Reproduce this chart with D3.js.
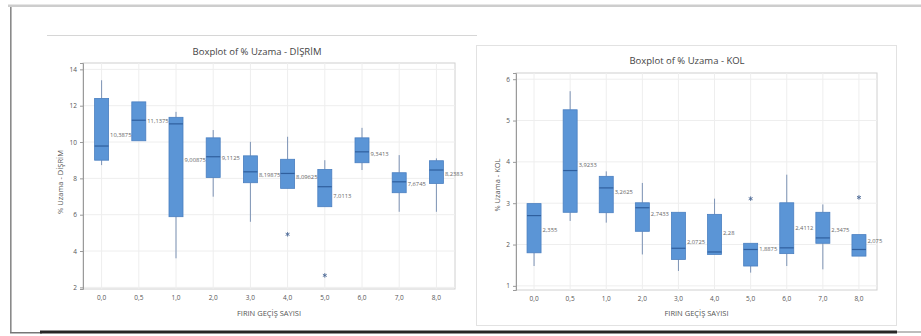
<!DOCTYPE html>
<html>
<head>
<meta charset="utf-8">
<script src="https://cdn.jsdelivr.net/npm/d3@7"></script>
<style>
  html, body { margin: 0; padding: 0; background: #fff; }
  svg { display: block; font-family: "Open Sans", "Noto Sans", sans-serif; }
</style>
</head>
<body>
<svg id="chart" width="921" height="336"></svg>
<script>
// ---------- DATA ----------
const categories = ["0,0", "0,5", "1,0", "2,0", "3,0", "4,0", "5,0", "6,0", "7,0", "8,0"];

// Left chart: % Uzama - DİŞRİM
const disrimTicks = [2, 4, 6, 8, 10, 12, 14];
const disrimWhiskerLow  = [8.73, 10.07, 3.6, 6.99, 5.61, 7.45, 6.44, 8.46, 6.16, 6.16];
const disrimQ1          = [9.0, 10.07, 5.89, 8.05, 7.76, 7.45, 6.44, 8.86, 7.21, 7.72];
const disrimMedian      = [9.78, 11.2, 11.0, 9.19, 8.36, 8.27, 7.54, 9.46, 7.81, 8.46];
const disrimQ3          = [12.4, 12.21, 11.36, 10.23, 9.24, 9.05, 8.49, 10.23, 8.31, 8.97];
const disrimWhiskerHigh = [13.4, 12.21, 11.66, 10.66, 10.01, 10.29, 9.0, 10.78, 9.28, 9.1];
const disrimMean        = [10.3875, 11.1375, 9.00875, 9.1125, 8.19875, 8.09625, 7.0113, 9.3413, 7.6745, 8.2383];
const disrimOutliers    = [[], [], [], [], [], [4.92], [2.66], [], [], []];

// Right chart: % Uzama - KOL
const kolTicks = [1, 2, 3, 4, 5, 6];
const kolWhiskerLow  = [1.48, 2.57, 2.53, 1.76, 1.36, 1.76, 1.32, 1.48, 1.40, 1.72];
const kolQ1          = [1.80, 2.78, 2.77, 2.32, 1.64, 1.76, 1.48, 1.78, 2.03, 1.72];
const kolMedian      = [2.70, 3.79, 3.37, 2.89, 1.91, 1.82, 1.88, 1.92, 2.16, 1.88];
const kolQ3          = [2.99, 5.26, 3.65, 3.01, 2.78, 2.73, 2.03, 3.01, 2.78, 2.24];
const kolWhiskerHigh = [2.99, 5.71, 3.77, 3.49, 2.78, 3.11, 2.03, 3.69, 2.97, 2.24];
const kolMean        = [2.355, 3.9233, 3.2625, 2.7433, 2.0725, 2.28, 1.8875, 2.4112, 2.3475, 2.075];
const kolOutliers    = [[], [], [], [], [], [], [3.11], [], [], [3.14]];

// ---------- DRAW ----------
const svg = d3.select("#chart");

// outer frame
svg.append("rect").attr("x", 8).attr("y", 4.5).attr("width", 913).attr("height", 2.5).attr("fill", "#cdcdcd");
svg.append("rect").attr("x", 10).attr("y", 7).attr("width", 1.6).attr("height", 326).attr("fill", "#8a8a8a");
svg.append("rect").attr("x", 10).attr("y", 332).attr("width", 32).attr("height", 1.5).attr("fill", "#777");
svg.append("rect").attr("x", 40).attr("y", 330.5).attr("width", 857).attr("height", 3).attr("fill", "#262626");
svg.append("rect").attr("x", 897).attr("y", 331).attr("width", 24).attr("height", 2).attr("fill", "#bdbdbd");

// left panel top line
svg.append("line").attr("x1", 47).attr("x2", 477).attr("y1", 35.5).attr("y2", 35.5)
  .attr("stroke", "#d6d6d6").attr("stroke-width", 1);

// right panel frame
svg.append("rect").attr("x", 476.5).attr("y", 45.5).attr("width", 420).attr("height", 280)
  .attr("fill", "#fff").attr("stroke", "#e2e2e2").attr("stroke-width", 1);

function drawBoxplot(cfg) {
  const g = svg.append("g");
  const x = d3.scaleBand().domain(categories).range([cfg.left, cfg.right]);
  const y = d3.scaleLinear().domain(cfg.yDomain).range([cfg.bottom, cfg.top]);

  // plot frame
  g.append("rect").attr("x", cfg.left).attr("y", cfg.top)
    .attr("width", cfg.right - cfg.left).attr("height", cfg.bottom - cfg.top)
    .attr("fill", "#fff").attr("stroke", "#d0d0d0").attr("stroke-width", 1);

  // gridlines
  g.selectAll(".hg").data(cfg.ticks).join("line")
    .attr("x1", cfg.left).attr("x2", cfg.right)
    .attr("y1", d => y(d)).attr("y2", d => y(d))
    .attr("stroke", "#eeeeee").attr("stroke-width", 1);
  g.selectAll(".vg").data(categories).join("line")
    .attr("x1", d => x(d) + x.bandwidth() / 2).attr("x2", d => x(d) + x.bandwidth() / 2)
    .attr("y1", cfg.top).attr("y2", cfg.bottom)
    .attr("stroke", "#eeeeee").attr("stroke-width", 1);

  // axes
  const yAxis = d3.axisLeft(y).tickValues(cfg.ticks).tickSize(3).tickPadding(3).tickFormat(d3.format("d"));
  const ya = g.append("g").attr("transform", `translate(${cfg.left},0)`).call(yAxis);
  ya.select(".domain").attr("stroke", "#9a9a9a");
  ya.selectAll(".tick line").attr("stroke", "#9a9a9a");
  ya.selectAll("text").attr("font-size", 6.5).attr("fill", "#555").attr("font-family", "Open Sans, sans-serif");

  const xAxis = d3.axisBottom(x).tickSize(0).tickPadding(6);
  const xa = g.append("g").attr("transform", `translate(0,${cfg.bottom})`).call(xAxis);
  xa.select(".domain").remove();
  xa.selectAll("text").attr("font-size", 6.5).attr("fill", "#555").attr("font-family", "Open Sans, sans-serif");

  const bw = 14;
  const cx = i => x(categories[i]) + x.bandwidth() / 2;
  const idx = d3.range(categories.length);

  // whiskers
  g.selectAll(".wh").data(idx).join("line")
    .attr("x1", cx).attr("x2", cx)
    .attr("y1", i => y(cfg.wHigh[i])).attr("y2", i => y(cfg.q3[i]))
    .attr("stroke", "#7d93b5").attr("stroke-width", 1);
  g.selectAll(".wl").data(idx).join("line")
    .attr("x1", cx).attr("x2", cx)
    .attr("y1", i => y(cfg.q1[i])).attr("y2", i => y(cfg.wLow[i]))
    .attr("stroke", "#7d93b5").attr("stroke-width", 1);

  // boxes
  g.selectAll(".box").data(idx).join("rect")
    .attr("x", i => cx(i) - bw / 2).attr("width", bw)
    .attr("y", i => y(cfg.q3[i])).attr("height", i => y(cfg.q1[i]) - y(cfg.q3[i]))
    .attr("fill", "#5b95d6").attr("stroke", "#4a7fc0").attr("stroke-width", 0.8);

  // medians
  g.selectAll(".med").data(idx).join("line")
    .attr("x1", i => cx(i) - bw / 2).attr("x2", i => cx(i) + bw / 2)
    .attr("y1", i => y(cfg.median[i])).attr("y2", i => y(cfg.median[i]))
    .attr("stroke", "#2f5f9e").attr("stroke-width", 1.2);

  // outliers
  const outs = idx.flatMap(i => cfg.outliers[i].map(v => ({ i, v })));
  g.selectAll(".out").data(outs).join("path")
    .attr("transform", d => `translate(${cx(d.i)},${y(d.v)})`)
    .attr("d", d3.symbol(d3.symbolAsterisk, 14))
    .attr("fill", "none").attr("stroke", "#4d6a96").attr("stroke-width", 0.9);

  // mean labels
  g.selectAll(".ml").data(idx).join("text")
    .attr("x", i => cx(i) + bw / 2 + 1.5)
    .attr("y", i => y(cfg.mean[i]))
    .attr("dy", "0.35em")
    .attr("font-size", 5.8).attr("fill", "#666")
    .text(i => String(cfg.mean[i]).replace(".", ","));

  // titles
  g.append("text").attr("x", cfg.titleX).attr("y", cfg.titleY)
    .attr("text-anchor", "middle").attr("font-size", 9.5).attr("fill", "#444")
    .text(cfg.title);
  g.append("text").attr("x", (cfg.left + cfg.right) / 2 + cfg.xTitleShift).attr("y", 316)
    .attr("text-anchor", "middle").attr("font-size", 7.5).attr("fill", "#555")
    .text("FIRIN GEÇİŞ SAYISI");
  g.append("text")
    .attr("transform", `translate(${cfg.yTitleX},${cfg.yTitleY}) rotate(-90)`)
    .attr("text-anchor", "middle").attr("font-size", 7.5).attr("fill", "#555")
    .text(cfg.yTitle);
}

drawBoxplot({
  left: 83, right: 455, top: 63, bottom: 289,
  yDomain: [1.91, 14.35], ticks: disrimTicks,
  wLow: disrimWhiskerLow, q1: disrimQ1, median: disrimMedian, q3: disrimQ3, wHigh: disrimWhiskerHigh,
  mean: disrimMean, outliers: disrimOutliers,
  title: "Boxplot of % Uzama - DİŞRİM", titleX: 257, titleY: 55,
  yTitle: "% Uzama - DİŞRİM", yTitleX: 63, yTitleY: 182, xTitleShift: 0
});

drawBoxplot({
  left: 516, right: 877, top: 73, bottom: 290,
  yDomain: [0.9, 6.15], ticks: kolTicks,
  wLow: kolWhiskerLow, q1: kolQ1, median: kolMedian, q3: kolQ3, wHigh: kolWhiskerHigh,
  mean: kolMean, outliers: kolOutliers,
  title: "Boxplot of % Uzama - KOL", titleX: 687, titleY: 64,
  yTitle: "% Uzama - KOL", yTitleX: 500, yTitleY: 185, xTitleShift: 0
});
</script>
</body>
</html>
